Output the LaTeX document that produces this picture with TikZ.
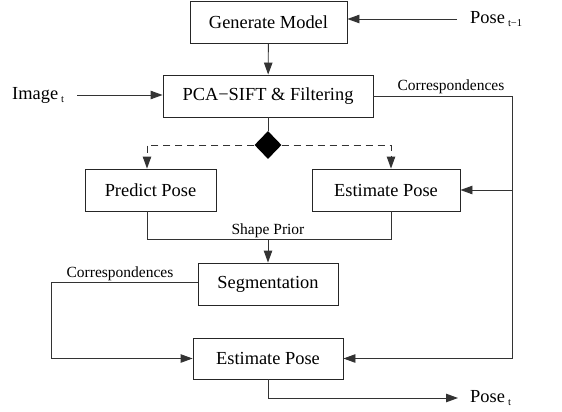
\documentclass[tikz,border=0pt]{standalone}
\usepackage{fontspec}
\setmainfont{Liberation Serif}
\usetikzlibrary{arrows.meta,shapes.geometric}
\tikzset{
  box/.style={draw=black!85, line width=0.9pt, inner sep=0pt,
    font=\fontsize{18.4}{22}\selectfont},
  lbl/.style={inner sep=0pt, font=\fontsize{15.5}{18}\selectfont},
  ext/.style={inner sep=0pt, font=\fontsize{18.4}{22}\selectfont},
  wire/.style={draw=black!80, line width=0.9pt},
  flow/.style={wire, -{Triangle[length=12pt,width=8.5pt]}},
  dflow/.style={flow, dash pattern=on 7pt off 5pt},
}
\newcommand{\subidx}[1]{\,\raisebox{-0.45ex}{\fontsize{10.5}{12}\selectfont #1}}
\begin{document}
\begin{tikzpicture}[x=1pt,y=-1pt]
\useasboundingbox (0,0) rectangle (562,412);

% process boxes
\node[box, minimum width=157pt, minimum height=42pt] (gen)  at (268.5,22)  {Generate Model};
\node[box, minimum width=210pt, minimum height=42pt] (pca)  at (268,96)    {PCA−SIFT \& Filtering};
\node[diamond, fill=black, inner sep=0pt, minimum width=27pt, minimum height=28pt] (dec) at (268,145) {};
\node[box, minimum width=131pt, minimum height=42pt] (pred) at (150.5,190) {Predict Pose};
\node[box, minimum width=148pt, minimum height=42pt] (est1) at (386,190)   {Estimate Pose};
\node[box, minimum width=140pt, minimum height=42pt] (seg)  at (268,284)   {Segmentation};
\node[box, minimum width=150pt, minimum height=41pt] (est2) at (268,358.5) {Estimate Pose};

% inputs and output
\node[ext, anchor=west] (posein) at (470,19)  {Pose\subidx{t−1}};
\node[ext, anchor=west] (img)    at (12,95)   {Image\subidx{t}};
\node[ext, anchor=west] (poseout) at (470,398) {Pose\subidx{t}};

% helper points for the routed lines
\coordinate (pin) at (457,19);
\coordinate (iin) at (77,95);
\coordinate (rc)  at (512,96);
\coordinate (dl)  at (147,145);
\coordinate (dr)  at (391,145);
\coordinate (sp)  at (268,239);
\coordinate (lc)  at (51,282);
\coordinate (out) at (268,398);
\coordinate (pout) at (458,398);

% main flow
\draw[flow] (pin) -- (gen.east |- pin);
\draw[flow] (gen) -- (pca);
\draw[flow] (iin) -- (pca.west |- iin);
\draw[wire] (pca) -- (dec);

% branching from the decision point
\draw[dflow] (dec.west) -- (dl) -- (dl |- pred.north);
\draw[dflow] (dec.east) -- (dr) -- (dr |- est1.north);

% correspondences from feature matching
\draw[wire] (pca.east) -- (rc) -- (rc |- est2.east);
\draw[flow] (rc |- est1.east) -- (est1.east);
\draw[flow] (rc |- est2.east) -- (est2.east);
\node[lbl, anchor=base] at (451,90) {Correspondences};

% shape prior
\draw[wire] (dl |- pred.south) -- (dl |- sp) -- (dr |- sp) -- (dr |- est1.south);
\draw[flow] (sp) -- (seg.north);
\node[lbl, anchor=base] at (268,234.5) {Shape Prior};

% correspondences from segmentation
\draw[flow] (seg.west |- lc) -- (lc) |- (est2.west);
\node[lbl, anchor=base] at (120,277) {Correspondences};

% final pose
\draw[flow] (est2.south) -- (out) -- (pout);
\end{tikzpicture}
\end{document}
